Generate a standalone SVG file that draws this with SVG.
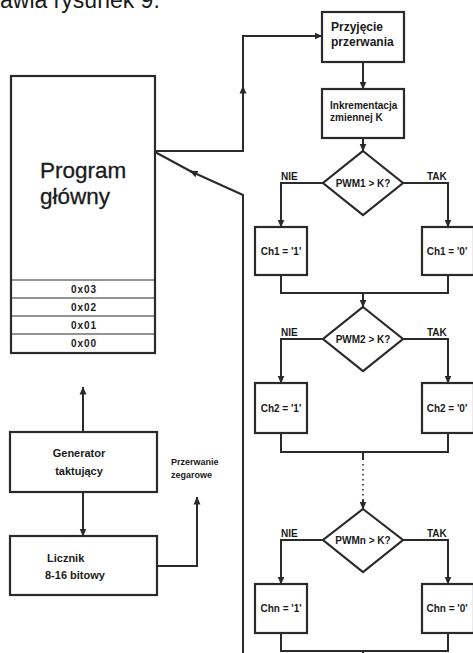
<svg xmlns="http://www.w3.org/2000/svg" width="473" height="653" viewBox="0 0 473 653">
<defs>
<marker id="ah" viewBox="0 0 8 8" refX="7.5" refY="4" markerWidth="8" markerHeight="8" markerUnits="userSpaceOnUse" orient="auto">
<path d="M0,0.5 L8,4 L0,7.5 Z" fill="#2a2a2a"/>
</marker>
</defs>
<style>
.bx{fill:#fff;stroke:#2a2a2a;stroke-width:2.2}
.cl{fill:none;stroke:#2a2a2a;stroke-width:1.2}
.ln{fill:none;stroke:#2a2a2a;stroke-width:2}
.ar{marker-end:url(#ah)}
.dot{fill:none;stroke:#2a2a2a;stroke-width:1.6;stroke-dasharray:1.5 3.5}
text{font-family:"Liberation Sans",Arial,sans-serif;fill:#1a1a1a}
.s{font-size:10px;font-weight:bold}
.m{font-size:11px;font-weight:bold}
.c{text-anchor:middle}
</style>
<text x="0" y="8" font-size="23">awia rysunek 9.</text>

<g id="program">
<rect class="bx" x="11" y="76" width="144" height="277"/>
<line class="cl" x1="11" y1="280" x2="155" y2="280"/>
<line class="cl" x1="11" y1="298" x2="155" y2="298"/>
<line class="cl" x1="11" y1="316" x2="155" y2="316"/>
<line class="cl" x1="11" y1="334" x2="155" y2="334"/>
<text x="40" y="178" font-size="22.5" stroke="#1a1a1a" stroke-width="0.3">Program</text>
<text x="40" y="204" font-size="22.5" stroke="#1a1a1a" stroke-width="0.3">główny</text>
<text class="s c" x="84" y="293" letter-spacing="1">0x03</text>
<text class="s c" x="84" y="311" letter-spacing="1">0x02</text>
<text class="s c" x="84" y="329" letter-spacing="1">0x01</text>
<text class="s c" x="84" y="347" letter-spacing="1">0x00</text>
</g>

<g id="generator">
<rect class="bx" x="10" y="432" width="147" height="60"/>
<text class="m c" x="79" y="457">Generator</text>
<text class="m c" x="79" y="475">taktujący</text>
</g>

<g id="licznik">
<rect class="bx" x="10" y="536" width="147" height="59"/>
<text class="m" x="47" y="562">Licznik</text>
<text class="m" x="45" y="579" font-size="12">8-16 bitowy</text>
</g>

<g id="przerwanie-label">
<text x="171" y="465" font-size="9" font-weight="bold">Przerwanie</text>
<text x="171" y="478" font-size="9" font-weight="bold">zegarowe</text>
</g>

<g id="przyjecie">
<rect class="bx" x="322" y="12" width="82" height="50"/>
<text x="331" y="31" font-size="12" font-weight="bold">Przyjęcie</text>
<text x="331" y="46" font-size="12" font-weight="bold">przerwania</text>
</g>

<g id="inkrementacja">
<rect class="bx" x="322" y="89" width="82" height="49"/>
<text class="s" x="330" y="109">Inkrementacja</text>
<text class="s" x="330" y="121">zmiennej K</text>
</g>

<g id="dec1">
<path class="bx" d="M363,151 L403,183 L363,215 L323,183 Z"/>
<text class="s c" x="363" y="187">PWM1 &gt; K?</text>
</g>
<g id="ch1-1">
<rect class="bx" x="255" y="227" width="52" height="48"/>
<text class="s c" x="281" y="255">Ch1 = '1'</text>
</g>
<g id="ch1-0">
<rect class="bx" x="422" y="227" width="52" height="48"/>
<text class="s c" x="447" y="255">Ch1 = '0'</text>
</g>

<g id="dec2">
<path class="bx" d="M363,307 L403,339 L363,371 L323,339 Z"/>
<text class="s c" x="363" y="343">PWM2 &gt; K?</text>
</g>
<g id="ch2-1">
<rect class="bx" x="255" y="383" width="52" height="50"/>
<text class="s c" x="281" y="412">Ch2 = '1'</text>
</g>
<g id="ch2-0">
<rect class="bx" x="422" y="383" width="52" height="50"/>
<text class="s c" x="447" y="412">Ch2 = '0'</text>
</g>

<g id="decn">
<path class="bx" d="M363,509 L403,540 L363,572 L323,540 Z"/>
<text class="s c" x="363" y="544">PWMn &gt; K?</text>
</g>
<g id="chn-1">
<rect class="bx" x="255" y="584" width="52" height="49"/>
<text class="s c" x="281" y="612">Chn = '1'</text>
</g>
<g id="chn-0">
<rect class="bx" x="422" y="584" width="52" height="49"/>
<text class="s c" x="447" y="612">Chn = '0'</text>
</g>

<g id="labels">
<text class="s" x="281" y="180">NIE</text>
<text class="s" x="427" y="180">TAK</text>
<text class="s" x="281" y="336">NIE</text>
<text class="s" x="427" y="336">TAK</text>
<text class="s" x="281" y="537">NIE</text>
<text class="s" x="427" y="537">TAK</text>
</g>

<g id="connectors">
<path class="ln ar" d="M155,151 L243,151 L243,86"/>
<path class="ln ar" d="M243,88 L243,36 L322,36"/>
<path class="ln ar" d="M243,653 L243,195 L190,171"/>
<path class="ln" d="M192,172 L155,152"/>
<path class="ln ar" d="M83,432 L83,387"/>
<path class="ln ar" d="M83,492 L83,536"/>
<path class="ln ar" d="M157,566 L197,566 L197,497"/>
<path class="ln ar" d="M363,62 L363,89"/>
<path class="ln ar" d="M363,138 L363,151"/>
<path class="ln ar" d="M323,183 L281,183 L281,227"/>
<path class="ln ar" d="M403,183 L448,183 L448,227"/>
<path class="ln" d="M281,275 L281,293 L448,293 L448,275"/>
<path class="ln ar" d="M363,293 L363,307"/>
<path class="ln ar" d="M323,339 L281,339 L281,383"/>
<path class="ln ar" d="M403,339 L448,339 L448,383"/>
<path class="ln" d="M281,433 L281,452 L448,452 L448,433"/>
<path class="ln" d="M363,452 L363,460"/>
<path class="dot" d="M363,464 L363,500"/>
<path class="ln ar" d="M363,500 L363,509"/>
<path class="ln ar" d="M323,540 L281,540 L281,584"/>
<path class="ln ar" d="M403,540 L448,540 L448,584"/>
<path class="ln" d="M281,633 L281,651 L448,651 L448,633"/>
<path class="ln" d="M363,651 L363,653"/>
</g>
</svg>
